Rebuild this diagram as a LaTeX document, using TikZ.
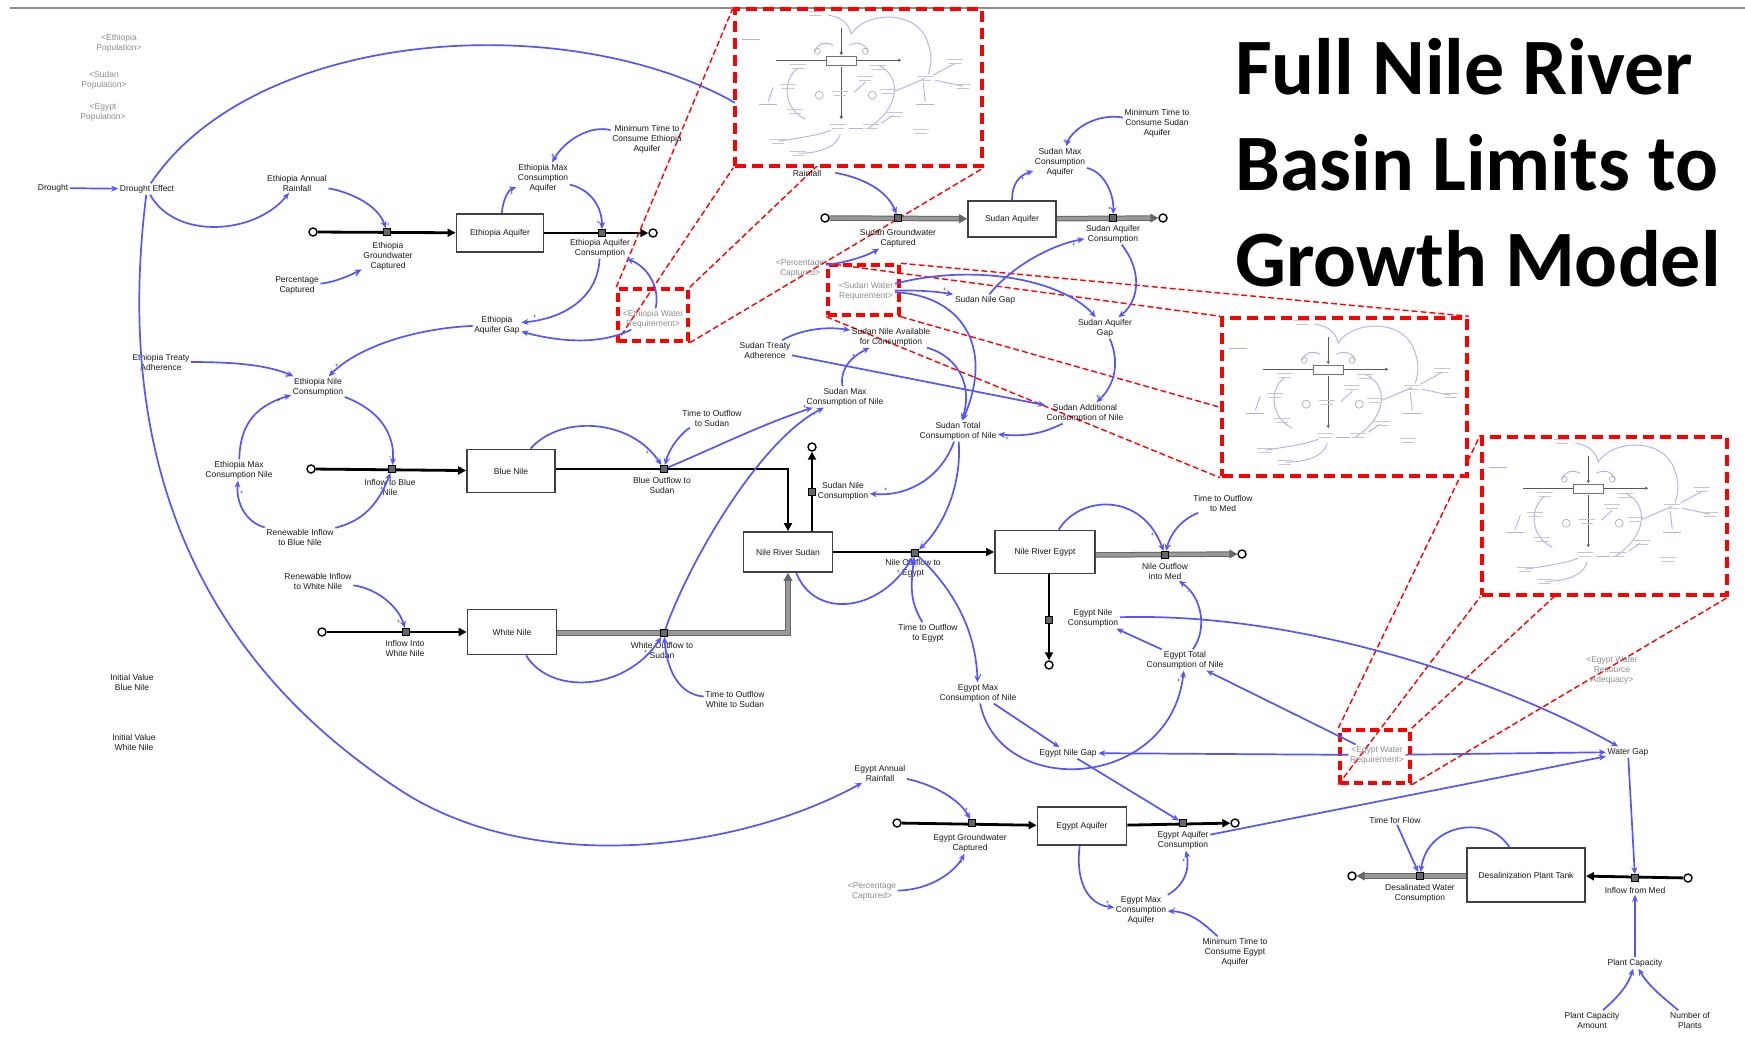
\documentclass[tikz,border=0pt]{standalone}
\usepackage{fontspec}
\setsansfont{Liberation Sans}
\newfontfamily\titlefont{Carlito}
\usetikzlibrary{arrows.meta}
\usetikzlibrary{backgrounds}
\definecolor{linkblue}{RGB}{85,85,250}
\definecolor{miniblue}{RGB}{175,175,245}
\tikzstyle{var}=[font=\sffamily\fontsize{8.5}{10}\selectfont, text=black!90, align=center, inner sep=1.5pt]
\tikzstyle{shadowvar}=[var, text=black!45]
\tikzstyle{stock}=[var, draw=black!75, line width=1.8pt, fill=white]
\tikzstyle{valve}=[draw=black, fill=black!60, line width=0.8pt, minimum size=7pt, inner sep=0pt]
\tikzstyle{cloud}=[circle, draw=black, line width=1.4pt, fill=white, minimum size=8pt, inner sep=0pt]
\tikzstyle{link}=[draw=linkblue, line width=1.7pt, -{Stealth[length=7pt, width=6pt]}]
\tikzstyle{pipe}=[draw=black, line width=2.8pt, -{Triangle[length=8pt, width=8pt]}]
\tikzstyle{gpipe}=[draw=black!60, line width=1pt, double=black!40, double distance=3.5pt, -{Triangle[length=8pt, width=9pt]}]
\tikzstyle{sign}=[font=\sffamily\fontsize{6}{6}\selectfont, text=black!80, inner sep=1pt]
\tikzstyle{zoombox}=[draw=red, line width=3.5pt, dash pattern=on 11pt off 6pt, fill=white, inner sep=0pt]
\tikzstyle{zoomsmall}=[draw=red, line width=3.5pt, dash pattern=on 9pt off 5pt, inner sep=0pt]
\tikzstyle{zoomline}=[draw=red, line width=1.4pt, dash pattern=on 6pt off 3pt]
\tikzstyle{greek}=[draw=black!22, line width=1.2pt]
\tikzstyle{minilink}=[draw=miniblue, line width=0.9pt]
\tikzstyle{titletext}=[font=\titlefont\bfseries\fontsize{80}{96}\selectfont, anchor=base west, inner sep=0pt]

\newcommand{\popmodel}[1]{%
  \begin{scope}[shift={(#1.north west)}]
    \draw[minilink] (95,8) .. controls (110,10) and (116,18) .. (118,27);
    \draw[minilink] (118,27) .. controls (130,5) and (185,0) .. (195,37) .. controls (200,50) and (197,60) .. (195,67);
    \draw[minilink] (82,44) .. controls (84,36) and (92,34) .. (100,38);
    \draw[minilink] (135,44) .. controls (132,36) and (124,34) .. (116,38);
    \draw[minilink] (65,61) .. controls (50,70) and (48,100) .. (72,112);
    \draw[minilink] (145,58) .. controls (168,68) and (168,100) .. (135,121);
    \draw[minilink] (35,94) -- (40,80);
    \draw[minilink] (192,71) -- (162,84);
    \draw[minilink] (222,56) -- (200,68);
    \draw[minilink] (230,79) -- (202,73);
    \draw[minilink] (192,94) -- (190,76);
    \draw[minilink] (132,75) -- (121,85);
    \draw[minilink] (45,134) .. controls (70,130) and (85,128) .. (98,123);
    \draw[minilink] (65,146) .. controls (90,146) and (104,138) .. (107,127);
    \draw[minilink] (116,121) -- (130,121);
    \draw[minilink] (160,108) -- (148,116);
    \draw[black!65, line width=0.8pt, -{Triangle[length=3pt, width=3pt]}] (43,53) -- (168,53);
    \draw[black!65, line width=0.8pt, -{Triangle[length=3pt, width=3pt]}] (108,21) -- (108,48);
    \draw[black!65, line width=0.8pt, -{Triangle[length=3pt, width=3pt]}] (108,60) -- (108,112);
    \draw[black!55, fill=white, line width=0.6pt] (93,49) rectangle (123,58);
    \foreach \gx/\gy in {82/6, 65/59, 145/60, 55/79, 62/104, 105/119, 138/119, 132/71, 107/86, 155/84, 162/107, 188/124, 45/134, 65/146, 222/54, 230/79, 192/71}
      \draw[greek] (\gx-8,\gy-2) -- (\gx+8,\gy-2) (\gx-6,\gy+2) -- (\gx+6,\gy+2);
    \foreach \gx/\gy in {18/32, 35/97, 192/97}
      \draw[greek, draw=miniblue] (\gx-9,\gy) -- (\gx+9,\gy);
    \draw[black!35, line width=0.6pt] (86,88) circle [radius=4pt] (139,88) circle [radius=4pt]
      (84,44) circle [radius=3pt] (132,44) circle [radius=3pt];
  \end{scope}}

\begin{document}
\begin{tikzpicture}[x=1pt, y=-1pt]
\useasboundingbox (0,0) rectangle (1745,1046);
\draw[black!45, line width=2.5pt] (10,8) -- (1745,8);

% Ethiopia
\node[shadowvar] (ethpop) at (119,43) {<Ethiopia\\Population>};
\node[shadowvar] (sudpop) at (104,80) {<Sudan\\Population>};
\node[shadowvar] (egypop) at (103,112) {<Egypt\\Population>};
\node[var] (drought) at (53,188) {Drought};
\node[var] (deffect) at (147,189) {Drought Effect};
\node[var] (ethrain) at (297,183) {Ethiopia Annual\\Rainfall};
\node[var] (ethgwlbl) at (388,256) {Ethiopia\\Groundwater\\Captured};
\node[var] (pctcap) at (297,285) {Percentage\\Captured};
\node[stock, minimum width=87pt, minimum height=38pt] (ethaq) at (500,233) {Ethiopia Aquifer};
\node[var] (ethaqconslbl) at (600,248) {Ethiopia Aquifer\\Consumption};
\node[var] (ethmaxaq) at (543,178) {Ethiopia Max\\Consumption\\Aquifer};
\node[var] (ethmintime) at (647,139) {Minimum Time to\\Consume Ethiopia\\Aquifer};
\node[var] (ethaqgap) at (497,325) {Ethiopia\\Aquifer Gap};
\node[shadowvar] (ethreq) at (653,319) {<Ethiopia Water\\Requirement>};
\node[cloud] (ethsrc) at (313,232) {};
\node[cloud] (ethsink) at (653,233) {};
\node[valve] (ethgw) at (387,232) {};
\node[valve] (ethaqcons) at (602,233) {};
\coordinate (ethpoplink) at (765,122);

% Blue and White Nile
\node[var] (ethtreaty) at (161,362) {Ethiopia Treaty\\Adherence};
\node[var] (ethnilecons) at (318,387) {Ethiopia Nile\\Consumption};
\node[var] (ethmaxnile) at (239,470) {Ethiopia Max\\Consumption Nile};
\node[var] (renblue) at (300,537) {Renewable Inflow\\to Blue Nile};
\node[cloud] (bluesrc) at (311,469) {};
\node[valve] (bluein) at (392,469) {};
\node[var] (blueinlbl) at (390,487) {Inflow to Blue\\Nile};
\node[stock, minimum width=88pt, minimum height=43pt] (bluenile) at (511,471) {Blue Nile};
\node[valve] (blueout) at (664,469) {};
\node[var] (blueoutlbl) at (662,485) {Blue Outflow to\\Sudan};
\node[var] (ttosudan) at (712,418) {Time to Outflow\\to Sudan};
\node[var] (renwhite) at (318,581) {Renewable Inflow\\to White Nile};
\node[cloud] (whitesrc) at (322,632) {};
\node[valve] (whitein) at (406,632) {};
\node[var] (whiteinlbl) at (405,648) {Inflow Into\\White Nile};
\node[stock, minimum width=89pt, minimum height=45pt] (whitenile) at (512,632) {White Nile};
\node[valve] (whiteout) at (664,633) {};
\node[var] (whiteoutlbl) at (662,650) {White Outflow to\\Sudan};
\node[var] (ttowhite) at (735,699) {Time to Outflow\\White to Sudan};
\node[var] (initblue) at (132,682) {Initial Value\\Blue Nile};
\node[var] (initwhite) at (134,742) {Initial Value\\White Nile};

% Sudan
\node[var] (sudrain) at (807,168) {Sudan Annual\\Rainfall};
\node[cloud] (sudsrc) at (825,218) {};
\node[valve] (sudgw) at (898,218) {};
\node[var] (sudgwlbl) at (898,238) {Sudan Groundwater\\Captured};
\node[stock, minimum width=88pt, minimum height=36pt] (sudaq) at (1012,219) {Sudan Aquifer};
\node[valve] (sudaqcons) at (1113,218) {};
\node[var] (sudaqconslbl) at (1113,234) {Sudan Aquifer\\Consumption};
\node[cloud] (sudsink) at (1163,218) {};
\node[var] (sudmaxaq) at (1060,162) {Sudan Max\\Consumption\\Aquifer};
\node[var] (sudmintime) at (1157,123) {Minimum Time to\\Consume Sudan\\Aquifer};
\node[var] (sudaqgap) at (1105,328) {Sudan Aquifer\\Gap};
\node[var] (sudaddcons) at (1085,413) {Sudan Additional\\Consumption of Nile};
\node[var] (sudnilegap) at (985,300) {Sudan Nile Gap};
\node[shadowvar] (sudreq) at (866,291) {<Sudan Water\\Requirement>};
\node[shadowvar] (sudpct) at (800,268) {<Percentage\\Captured>};
\node[var] (sudavail) at (891,337) {Sudan Nile Available\\for Consumption};
\node[var] (sudtreaty) at (765,350) {Sudan Treaty\\Adherence};
\node[var] (sudmaxnile) at (845,397) {Sudan Max\\Consumption of Nile};
\node[var] (sudtotal) at (958,431) {Sudan Total\\Consumption of Nile};
\node[var] (sudnilecons) at (843,491) {Sudan Nile\\Consumption};
\node[stock, minimum width=89pt, minimum height=40pt] (nilesudan) at (788,552) {Nile River Sudan};
\node[valve] (sudconsvalve) at (812,492) {};
\node[cloud] (sudconssink) at (812,447) {};
\node[valve] (nileout) at (915,553) {};
\node[var] (nileoutlbl) at (913,568) {Nile Outflow to\\Egypt};

% Egypt
\node[stock, minimum width=100pt, minimum height=43pt] (nileegypt) at (1045,552) {Nile River Egypt};
\node[var] (ttoegypt) at (928,633) {Time to Outflow\\to Egypt};
\node[valve] (medout) at (1165,555) {};
\node[var] (medoutlbl) at (1165,571) {Nile Outflow\\into Med};
\node[cloud] (medsink) at (1242,554) {};
\node[var] (ttomed) at (1223,503) {Time to Outflow\\to Med};
\node[valve] (egyconsvalve) at (1049,620) {};
\node[cloud] (egyconssink) at (1049,665) {};
\node[var] (egynilecons) at (1093,618) {Egypt Nile\\Consumption};
\node[var] (egytotal) at (1185,660) {Egypt Total\\Consumption of Nile};
\node[var] (egymaxnile) at (978,693) {Egypt Max\\Consumption of Nile};
\node[var] (egynilegap) at (1068,753) {Egypt Nile Gap};
\node[shadowvar] (egyreq) at (1377,755) {<Egypt Water\\Requirement>};
\node[var] (watergap) at (1628,752) {Water Gap};
\node[shadowvar] (egyadequacy) at (1612,670) {<Egypt Water\\Resource\\Adequacy>};
\node[var] (egyrain) at (880,773) {Egypt Annual\\Rainfall};
\node[cloud] (egysrc) at (897,823) {};
\node[valve] (egygw) at (972,823) {};
\node[var] (egygwlbl) at (970,843) {Egypt Groundwater\\Captured};
\node[stock, minimum width=89pt, minimum height=38pt] (egyaq) at (1082,826) {Egypt Aquifer};
\node[valve] (egyaqcons) at (1183,823) {};
\node[var] (egyaqconslbl) at (1183,840) {Egypt Aquifer\\Consumption};
\node[cloud] (egysink) at (1235,823) {};
\node[shadowvar] (egypct) at (872,891) {<Percentage\\Captured>};
\node[var] (egymaxaq) at (1141,910) {Egypt Max\\Consumption\\Aquifer};
\node[var] (egymintime) at (1235,952) {Minimum Time to\\Consume Egypt\\Aquifer};
\node[stock, minimum width=118pt, minimum height=54pt] (desal) at (1526,875) {Desalinization Plant Tank};
\node[valve] (medin) at (1635,878) {};
\node[var] (medinlbl) at (1635,890) {Inflow from Med};
\node[cloud] (medsrc) at (1688,878) {};
\node[valve] (desalout) at (1420,876) {};
\node[var] (desaloutlbl) at (1420,893) {Desalinated Water\\Consumption};
\node[cloud] (desalsink) at (1352,876) {};
\node[var] (timeflow) at (1395,820) {Time for Flow};
\node[var] (plantcap) at (1635,963) {Plant Capacity};
\node[var] (plantamt) at (1592,1020) {Plant Capacity\\Amount};
\node[var] (nplants) at (1690,1020) {Number of\\Plants};

\node[zoomsmall, minimum width=70pt, minimum height=52pt] (ethreqbox) at (653,315) {};
\node[zoomsmall, minimum width=71pt, minimum height=50pt] (sudreqbox) at (863.5,290) {};
\node[zoomsmall, minimum width=70pt, minimum height=53pt] (egyreqbox) at (1375,756.5) {};

\begin{scope}[on background layer]
\draw[pipe] (ethsrc) -- (ethaq);
\draw[pipe] (ethaq) -- (ethsink);
\draw[pipe] (bluesrc) -- (bluenile);
\draw[pipe] (bluenile.east |- blueout) -| (nilesudan.north);
\draw[pipe] (whitesrc) -- (whitenile);
\draw[gpipe] (whitenile.east |- whiteout) -| (nilesudan.south);
\draw[pipe] (nilesudan.north -| sudconsvalve) -- (sudconssink);
\draw[pipe] (nilesudan) -- (nileegypt);
\draw[gpipe] (nileegypt.east |- medout) -- (medsink);
\draw[pipe] (nileegypt.south -| egyconsvalve) -- (egyconssink);
\draw[gpipe] (sudsrc) -- (sudaq);
\draw[gpipe] (sudaq) -- (sudsink);
\draw[pipe] (egysrc) -- (egyaq);
\draw[pipe] (egyaq) -- (egysink);
\draw[pipe] (medsrc) -- (desal);
\draw[gpipe] (desal.west |- desalout) -- (desalsink);
\end{scope}

\draw[link] (drought) -- (deffect);
\draw[link] (deffect) .. controls (175,240) and (255,235) .. (ethrain);
\draw[link] (deffect) .. controls (260,20) and (600,5) .. (ethpoplink);
\draw[link] (deffect) .. controls (118,420) and (170,640) .. (400,790) .. controls (535,878) and (740,850) .. (egyrain);
\draw[link] (ethrain) .. controls (350,192) and (378,205) .. node[sign, pos=0.95, right] {+} (ethgw);
\draw[link] (pctcap) .. controls (330,283) and (345,278) .. node[sign, pos=0.9, below] {+} (ethgwlbl);
\draw[link] (ethmintime) .. controls (590,125) and (565,140) .. node[sign, pos=0.9, left] {+} (ethmaxaq);
\draw[link] (ethaq) .. controls (503,200) and (508,190) .. node[sign, pos=0.6, right] {+} (ethmaxaq);
\draw[link] (ethmaxaq) .. controls (592,190) and (602,208) .. node[sign, pos=0.9, left] {+} (ethaqcons);
\draw[link] (ethaqconslbl) .. controls (598,295) and (568,318) .. node[sign, pos=0.9, above] {+} (ethaqgap);
\draw[link] (ethreq) .. controls (660,290) and (650,268) .. (ethaqconslbl);
\draw[link] (ethreq) .. controls (600,345) and (560,342) .. (ethaqgap);
\draw[link] (ethaqgap) .. controls (420,328) and (360,345) .. node[sign, pos=0.92, above] {+} (ethnilecons);
\draw[link] (ethtreaty) .. controls (240,362) and (270,366) .. node[sign, pos=0.9, below] {+} (ethnilecons);
\draw[link] (ethnilecons) .. controls (385,412) and (395,440) .. node[sign, pos=0.9, left] {-} (bluein);
\draw[link] (ethmaxnile) .. controls (240,428) and (252,407) .. node[sign, pos=0.85, right] {+} (ethnilecons);
\draw[link] (renblue) .. controls (358,522) and (376,510) .. node[sign, pos=0.8, above] {+} (bluein);
\draw[link] (renblue) .. controls (245,522) and (236,502) .. node[sign, pos=0.8, right] {+} (ethmaxnile);
\draw[link] (bluenile) .. controls (560,415) and (630,418) .. node[sign, pos=0.9, left] {+} (blueout);
\draw[link] (ttosudan) .. controls (685,430) and (670,445) .. node[sign, pos=0.9, right] {-} (blueout);
\draw[link] (blueout) .. controls (710,450) and (760,425) .. node[sign, pos=0.95, above] {+} (sudmaxnile);
\draw[link] (renwhite) .. controls (375,588) and (398,605) .. node[sign, pos=0.9, left] {+} (whitein);
\draw[link] (whitenile) .. controls (550,695) and (625,692) .. node[sign, pos=0.9, left] {+} (whiteout);
\draw[link] (ttowhite) .. controls (685,695) and (668,680) .. node[sign, pos=0.9, right] {-} (whiteout);
\draw[link] (whiteout) .. controls (690,560) and (760,440) .. node[sign, pos=0.95, below] {-} (sudmaxnile);
\draw[link] (sudrain) .. controls (865,178) and (888,192) .. (sudgw);
\draw[link] (sudpct) .. controls (850,262) and (868,255) .. node[sign, pos=0.9, below] {+} (sudgwlbl);
\draw[link] (sudmintime) .. controls (1095,113) and (1072,130) .. node[sign, pos=0.9, left] {+} (sudmaxaq);
\draw[link] (sudaq) .. controls (1012,185) and (1018,176) .. node[sign, pos=0.6, right] {+} (sudmaxaq);
\draw[link] (sudmaxaq) .. controls (1105,172) and (1114,195) .. node[sign, pos=0.9, left] {+} (sudaqcons);
\draw[link] (sudaqconslbl) .. controls (1142,270) and (1140,300) .. (sudaqgap);
\draw[link] (sudaqgap) .. controls (1120,362) and (1115,385) .. node[sign, pos=0.9, left] {+} (sudaddcons);
\draw[link] (sudaddcons) .. controls (1045,432) and (1030,437) .. node[sign, pos=0.9, below] {+} (sudtotal);
\draw[link] (sudnilegap) .. controls (1010,268) and (1050,245) .. node[sign, pos=0.9, below] {+} (sudaqconslbl);
\draw[link] (sudreq) .. controls (980,262) and (1065,282) .. (sudaqgap);
\draw[link] (sudreq) .. controls (920,290) and (940,292) .. node[sign, pos=0.8, above] {+} (sudnilegap);
\draw[link] (sudtreaty) .. controls (800,330) and (825,326) .. (sudavail);
\draw[link] (sudtreaty) -- (sudaddcons);
\draw[link] (sudmaxnile) .. controls (840,375) and (845,360) .. node[sign, pos=0.8, left] {+} (sudavail);
\draw[link] (sudavail) .. controls (962,358) and (972,390) .. (sudtotal);
\draw[link] (sudreq) .. controls (960,295) and (995,345) .. (sudtotal);
\draw[link] (sudtotal) .. controls (940,480) and (905,497) .. node[sign, pos=0.85, above] {+} (sudnilecons);
\draw[link] (sudtotal) .. controls (962,490) and (940,530) .. node[sign, pos=0.9, left] {-} (nileout);
\draw[link] (nilesudan) .. controls (815,620) and (880,612) .. node[sign, pos=0.9, left] {+} (nileout);
\draw[link] (ttoegypt) .. controls (913,605) and (909,595) .. node[sign, pos=0.9, right] {-} (nileout);
\draw[link] (nileout) .. controls (962,598) and (976,640) .. node[sign, pos=0.95, right] {+} (egymaxnile);
\draw[link] (nileegypt) .. controls (1080,495) and (1142,492) .. node[sign, pos=0.9, left] {+} (medout);
\draw[link] (ttomed) .. controls (1180,520) and (1170,535) .. node[sign, pos=0.9, right] {-} (medout);
\draw[link] (egytotal) -- (egynilecons);
\draw[link] (egytotal) .. controls (1207,630) and (1203,598) .. node[sign, pos=0.8, left] {-} (medoutlbl);
\draw[link] (egyreq) -- (egytotal);
\draw[link] (egyreq) -- (egynilegap);
\draw[link] (egymaxnile) -- (egynilegap);
\draw[link] (egymaxnile) .. controls (1000,800) and (1170,790) .. node[sign, pos=0.97, left] {+} (egytotal);
\draw[link] (egynilegap) -- (egyaqcons);
\draw[link] (egynilecons) .. controls (1300,612) and (1500,680) .. (watergap);
\draw[link] (egyaqconslbl) -- (watergap);
\draw[link] (egyrain) .. controls (935,785) and (960,800) .. node[sign, pos=0.9, above] {+} (egygw);
\draw[link] (egypct) .. controls (930,890) and (955,872) .. node[sign, pos=0.9, below] {+} (egygwlbl);
\draw[link] (egyaq) .. controls (1075,885) and (1090,905) .. node[sign, pos=0.9, above] {+} (egymaxaq);
\draw[link] (egymaxaq) .. controls (1185,885) and (1190,868) .. node[sign, pos=0.8, left] {+} (egyaqconslbl);
\draw[link] (egymintime) .. controls (1205,925) and (1192,912) .. node[sign, pos=0.9, above] {-} (egymaxaq);
\draw[link] (egyreq) -- (watergap);
\draw[link] (watergap) -- (medin);
\draw[link] (timeflow) -- (desalout);
\draw[link] (desal) .. controls (1490,815) and (1428,822) .. (desalout);
\draw[link] (plantcap) -- (medinlbl);
\draw[link] (plantamt) .. controls (1620,995) and (1628,985) .. (plantcap);
\draw[link] (nplants) .. controls (1660,995) and (1648,985) .. (plantcap);

% population insets
\node[zoombox, minimum width=247pt, minimum height=157pt] (ethzoom) at (858.5,87.5) {};
\popmodel{ethzoom}
\node[zoombox, minimum width=245pt, minimum height=158pt] (sudzoom) at (1344.5,397) {};
\popmodel{sudzoom}
\node[zoombox, minimum width=245pt, minimum height=158pt] (egyzoom) at (1604.5,516) {};
\popmodel{egyzoom}
\begin{scope}[on background layer]
\foreach \c in {north west, north east, south west, south east} {
  \draw[zoomline] (ethreqbox.\c) -- (ethzoom.\c);
  \draw[zoomline] (sudreqbox.\c) -- (sudzoom.\c);
  \draw[zoomline] (egyreqbox.\c) -- (egyzoom.\c);
}
\end{scope}

\node[titletext] (title1) at (1235,95) {Full Nile River};
\node[titletext] (title2) at (1235,190) {Basin Limits to};
\node[titletext] (title3) at (1235,286) {Growth Model};
\end{tikzpicture}
\end{document}
